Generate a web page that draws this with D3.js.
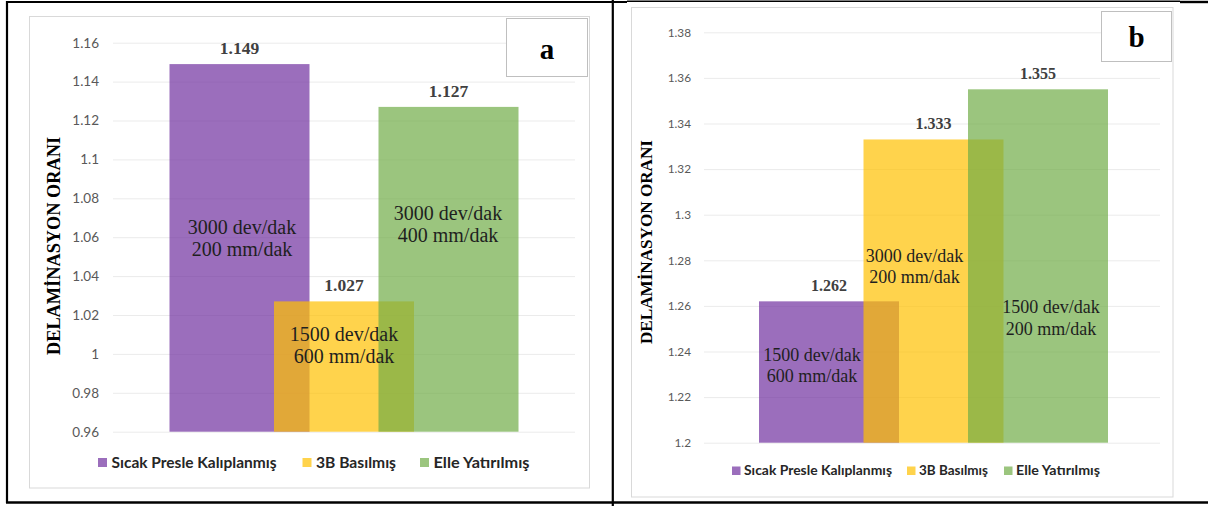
<!DOCTYPE html>
<html>
<head>
<meta charset="utf-8">
<script src="https://cdn.jsdelivr.net/npm/d3@7"></script>
<style>
  html, body { margin: 0; padding: 0; background: #ffffff; }
  svg { display: block; }
</style>
</head>
<body>
<svg id="chart" width="1208" height="506"></svg>
<script>
// ---------------- DATA ----------------
const seriesNames = ["Sıcak Presle Kalıplanmış", "3B Basılmış", "Elle Yatırılmış"];
const seriesColors = ["#7030A0", "#FFC000", "#70AD47"];

const valuesA = [1.149, 1.027, 1.127];
const valuesB = [1.262, 1.333, 1.355];

const speedA = ["3000 dev/dak", "1500 dev/dak", "3000 dev/dak"];
const feedA  = ["200 mm/dak", "600 mm/dak", "400 mm/dak"];
const speedB = ["1500 dev/dak", "3000 dev/dak", "1500 dev/dak"];
const feedB  = ["600 mm/dak", "200 mm/dak", "200 mm/dak"];

const tickLabelsA = ["0.96", "0.98", "1", "1.02", "1.04", "1.06", "1.08", "1.1", "1.12", "1.14", "1.16"];
const tickLabelsB = ["1.2", "1.22", "1.24", "1.26", "1.28", "1.3", "1.32", "1.34", "1.36", "1.38"];

const axisTitle = "DELAMİNASYON ORANI";
const panelTags = ["a", "b"];

// ---------------- LAYOUT ----------------
const panels = [
  {
    tag: panelTags[0], values: valuesA, speed: speedA, feed: feedA, ticks: tickLabelsA,
    area: { x: 29.5, y: 16.5, w: 560, h: 471.5 },
    plot: { left: 113, right: 575, top: 42.7, bottom: 431.7 },
    center: 344, step: 104.5, barW: 140,
    tickFont: 13.5, tickPad: 14,
    valueFont: 17.5, noteFont: 20, noteGap: 21.5,
    noteMid: [1.0595, 1.0045, 1.0667], noteDx: [2.5, 0, -0.5],
    title: { x: 54, y: 246, size: 18, len: 218 },
    tagBox: { x: 506.5, y: 18.5, w: 81, h: 58, size: 29, by: 58.5 },
    legend: { x: 98, y: 458, sq: 9, gap: 4.5, widths: [165, 80, 96], spacing: [26, 24], font: 14.5 }
  },
  {
    tag: panelTags[1], values: valuesB, speed: speedB, feed: feedB, ticks: tickLabelsB,
    area: { x: 631.5, y: 7.5, w: 541.5, h: 489.5 },
    plot: { left: 704, right: 1160, top: 32.3, bottom: 442.7 },
    center: 933.5, step: 104.5, barW: 140,
    tickFont: 11.8, tickPad: 13,
    valueFont: 16, noteFont: 18, noteGap: 21.5,
    noteMid: [1.234, 1.2775, 1.2549], noteDx: [-17, -19, 13],
    title: { x: 646, y: 242, size: 17, len: 204 },
    tagBox: { x: 1101.5, y: 11.5, w: 70, h: 50, size: 29, by: 47 },
    legend: { x: 732, y: 466.5, sq: 8.5, gap: 3.5, widths: [148, 69, 84], spacing: [15, 16], font: 13 }
  }
];

const svg = d3.select("#chart");
svg.append("rect").attr("width", 1208).attr("height", 506).attr("fill", "#ffffff");

panels.forEach(p => {
  const g = svg.append("g");

  // chart area border
  g.append("rect")
    .attr("x", p.area.x).attr("y", p.area.y)
    .attr("width", p.area.w).attr("height", p.area.h)
    .attr("fill", "#ffffff").attr("stroke", "#D9D9D9").attr("stroke-width", 1);

  const tickVals = p.ticks.map(Number);
  const y = d3.scaleLinear()
    .domain([tickVals[0], tickVals[tickVals.length - 1]])
    .range([p.plot.bottom, p.plot.top]);
  const x = d3.scalePoint()
    .domain(seriesNames)
    .range([p.center - p.step, p.center + p.step]);

  // gridlines + tick labels
  const axis = d3.axisLeft(y)
    .tickValues(tickVals)
    .tickFormat((d, i) => p.ticks[i])
    .tickSizeInner(-(p.plot.right - p.plot.left))
    .tickSizeOuter(0)
    .tickPadding(p.tickPad);
  const ax = g.append("g")
    .attr("transform", `translate(${p.plot.left},0)`)
    .call(axis);
  ax.select(".domain").remove();
  ax.selectAll(".tick line").attr("stroke", "#EBEBEB").attr("stroke-width", 1);
  ax.selectAll(".tick text")
    .attr("fill", "#595959")
    .attr("font-family", "Lato, 'Open Sans', sans-serif")
    .attr("font-size", p.tickFont);

  // bars (semi transparent, overlapping)
  g.selectAll("rect.bar")
    .data(p.values)
    .enter().append("rect")
    .attr("class", "bar")
    .attr("x", (d, i) => x(seriesNames[i]) - p.barW / 2)
    .attr("width", p.barW)
    .attr("y", d => y(d))
    .attr("height", d => y(tickVals[0]) - y(d))
    .attr("fill", (d, i) => seriesColors[i])
    .attr("fill-opacity", 0.7);

  // value labels
  g.selectAll("text.val")
    .data(p.values)
    .enter().append("text")
    .attr("class", "val")
    .attr("x", (d, i) => x(seriesNames[i]))
    .attr("y", d => y(d) - 10)
    .attr("text-anchor", "middle")
    .attr("font-family", "'Liberation Serif', 'Times New Roman', serif")
    .attr("font-weight", "bold")
    .attr("font-size", p.valueFont)
    .attr("fill", "#404040")
    .text(d => d3.format(".3f")(d));

  // inside notes
  p.values.forEach((d, i) => {
    const cx = x(seriesNames[i]) + p.noteDx[i];
    const cy = y(p.noteMid[i]);
    [p.speed[i], p.feed[i]].forEach((t, k) => {
      g.append("text")
        .attr("x", cx)
        .attr("y", cy + (k === 0 ? -p.noteGap / 2 : p.noteGap / 2))
        .attr("dy", "0.35em")
        .attr("text-anchor", "middle")
        .attr("font-family", "'Liberation Serif', 'Times New Roman', serif")
        .attr("font-size", p.noteFont)
        .attr("fill", "#1f1f1f")
        .text(t);
    });
  });

  // axis title
  g.append("text")
    .attr("transform", `translate(${p.title.x},${p.title.y}) rotate(-90)`)
    .attr("text-anchor", "middle")
    .attr("dy", "0.35em")
    .attr("font-family", "'Liberation Serif', 'Times New Roman', serif")
    .attr("font-weight", "bold")
    .attr("font-size", p.title.size)
    .attr("textLength", p.title.len)
    .attr("lengthAdjust", "spacingAndGlyphs")
    .attr("fill", "#000000")
    .text(axisTitle);

  // tag box
  g.append("rect")
    .attr("x", p.tagBox.x).attr("y", p.tagBox.y)
    .attr("width", p.tagBox.w).attr("height", p.tagBox.h)
    .attr("fill", "#ffffff").attr("stroke", "#BFBFBF").attr("stroke-width", 1);
  g.append("text")
    .attr("x", p.tagBox.x + p.tagBox.w / 2)
    .attr("y", p.tagBox.by)
    .attr("text-anchor", "middle")
    .attr("font-family", "'Liberation Serif', 'Times New Roman', serif")
    .attr("font-weight", "bold")
    .attr("font-size", p.tagBox.size)
    .attr("fill", "#000000")
    .text(p.tag);

  // legend
  let lx = p.legend.x;
  seriesNames.forEach((name, i) => {
    g.append("rect")
      .attr("x", lx).attr("y", p.legend.y)
      .attr("width", p.legend.sq).attr("height", p.legend.sq)
      .attr("fill", seriesColors[i]).attr("fill-opacity", 0.7);
    g.append("text")
      .attr("x", lx + p.legend.sq + p.legend.gap)
      .attr("y", p.legend.y + p.legend.sq / 2)
      .attr("dy", "0.36em")
      .attr("font-family", "Lato, 'Open Sans', sans-serif")
      .attr("font-weight", "bold")
      .attr("font-size", p.legend.font)
      .attr("fill", "#262626")
      .attr("textLength", p.legend.widths[i])
      .attr("lengthAdjust", "spacingAndGlyphs")
      .text(name);
    lx += p.legend.sq + p.legend.gap + p.legend.widths[i] + (p.legend.spacing[i] || 0);
  });
});

// outer frame lines
const frame = svg.append("g").attr("stroke", "#000000").attr("fill", "none");
frame.append("line").attr("x1", 6).attr("x2", 627).attr("y1", 2).attr("y2", 2).attr("stroke-width", 2.2);
frame.append("line").attr("x1", 627).attr("x2", 1180).attr("y1", 1.2).attr("y2", 1.2).attr("stroke-width", 1.5);
frame.append("line").attr("x1", 1180).attr("x2", 1208).attr("y1", 2).attr("y2", 2).attr("stroke-width", 2.4);
frame.append("line").attr("x1", 7).attr("x2", 7).attr("y1", 1).attr("y2", 503).attr("stroke-width", 2.2);
frame.append("line").attr("x1", 612.8).attr("x2", 612.8).attr("y1", 0).attr("y2", 506).attr("stroke-width", 2.2);
frame.append("line").attr("x1", 6).attr("x2", 1208).attr("y1", 502.5).attr("y2", 502.5).attr("stroke-width", 2.6);
</script>
</body>
</html>
